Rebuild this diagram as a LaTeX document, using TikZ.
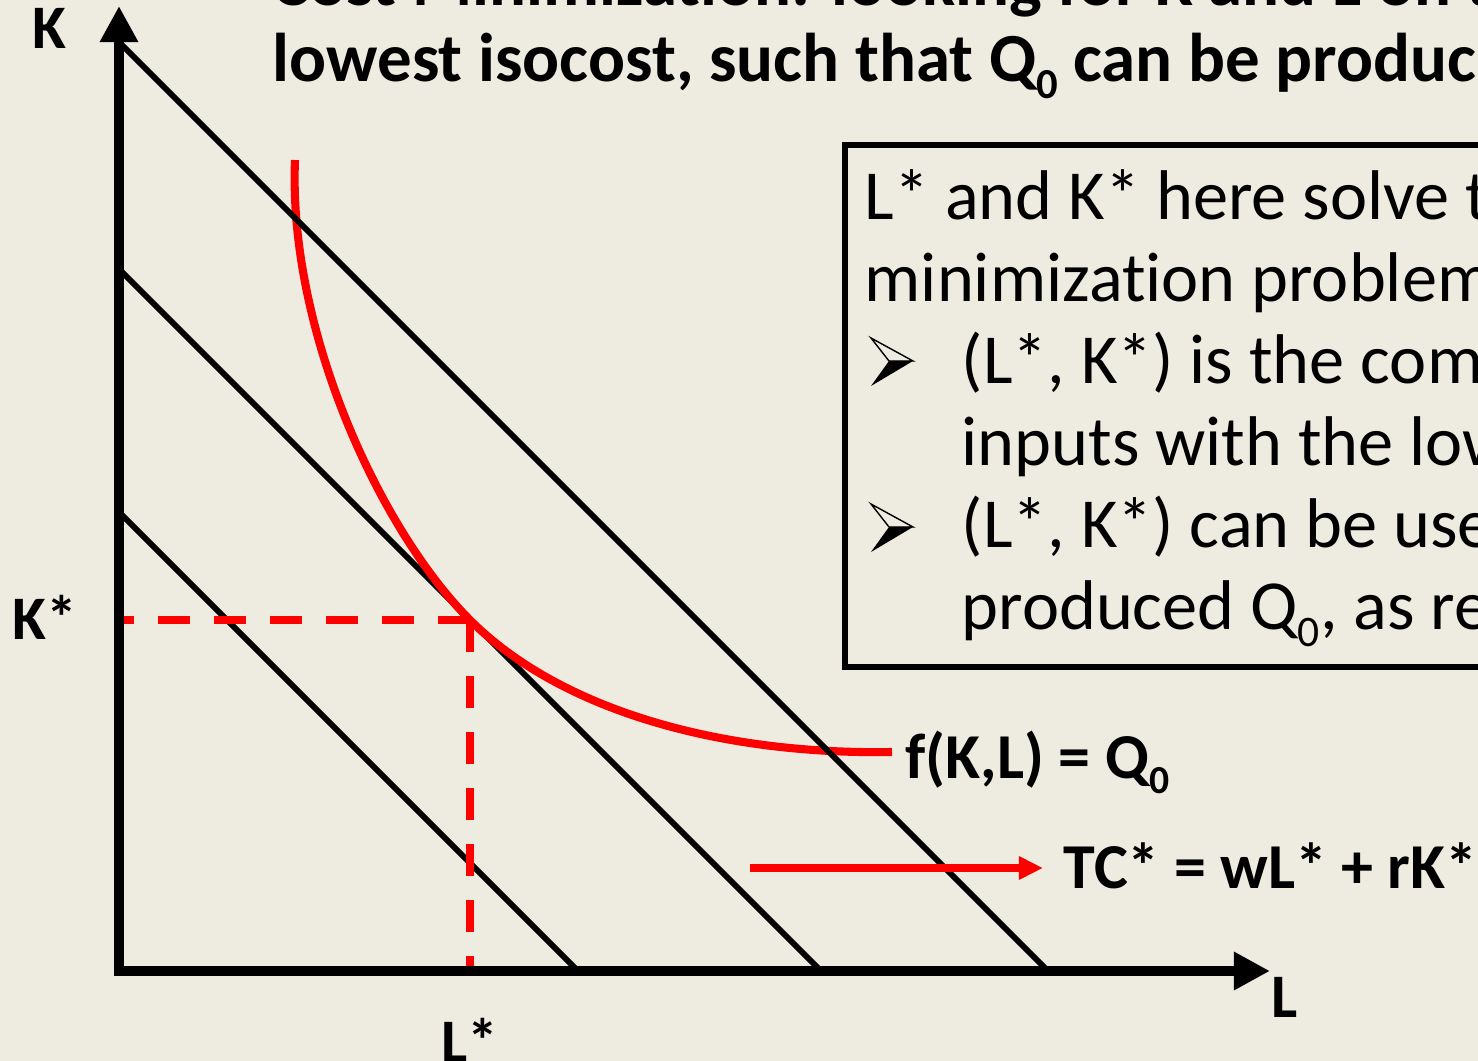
\documentclass[tikz,border=0pt]{standalone}
\usepackage{fontspec}
\setmainfont{Carlito}[Ligatures=NoCommon]
\usetikzlibrary{arrows.meta}
\definecolor{bgc}{RGB}{238,236,225}
\definecolor{myred}{RGB}{255,0,0}
\newcommand\fsz[1]{\fontsize{#1}{#1}\selectfont}
\newlength\zsl
\newcommand\subz{\setlength\zsl{0.62em}\raisebox{-0.24em}{\fontsize{\zsl}{\zsl}\selectfont 0}}
\begin{document}
\begin{tikzpicture}[x=0.01cm,y=-0.01cm,
  lbl/.style={inner sep=0pt, anchor=base west},
  titletxt/.style={lbl, font=\fsz{19.6pt}\bfseries},
  boxtxt/.style={lbl, font=\fsz{20pt}},
  axlbl/.style={lbl, font=\fsz{17.6pt}\bfseries},
  eqlbl/.style={lbl, font=\fsz{18.2pt}\bfseries},
  axisline/.style={line width=3.1pt, {Triangle[length=0.36cm,width=0.36cm]}-{Triangle[length=0.36cm,width=0.36cm]}},
  isocost/.style={line width=1.7pt, black},
  isoquant/.style={line width=2.3pt, myred},
  guide/.style={line width=2pt, myred, dash pattern=on 0.32cm off 0.24cm},
  redarrow/.style={line width=2pt, myred, -{Triangle[length=0.24cm,width=0.22cm]}},
  boxframe/.style={line width=1.7pt, black},
  pics/wbullet/.style={code={
    \draw[line width=0.4pt, fill=bgc, line join=miter] (-42,-23) -- (0,0) -- (-24,0) -- cycle;
    \fill[black] (-24,0) -- (0,0) -- (-42,25) -- cycle;
  }}]
\useasboundingbox (0,0) rectangle (1478,1061);
\clip (0,0) rectangle (1478,1061);
\fill[bgc] (0,0) rectangle (1478,1061);

% coordinates
\coordinate (O) at (119,971);
\coordinate (Ktop) at (119,6);
\coordinate (Lend) at (1270,971);
\coordinate (a1) at (120,43);  \coordinate (b1) at (1048,971);
\coordinate (a2) at (120,270); \coordinate (b2) at (821,971);
\coordinate (a3) at (120,513); \coordinate (b3) at (578,971);
\coordinate (T) at (470,620);
\coordinate (qs) at (295,160);
\coordinate (qe) at (892,752);

% title
\node[titletxt] (t1) at (272,6) {Cost Minimization: looking for K and L on the};
\node[titletxt] (t2) at (272,82) {lowest isocost, such that Q\subz{} can be produced};

% box
\draw[boxframe] (845,145) rectangle (1520,667);
\node[boxtxt] (l1) at (864,220) {L* and K* here solve the cost};
\node[boxtxt] (l2) at (864,302) {minimization problem:};
\node[boxtxt] (l3) at (961,384) {(L*, K*) is the combination of};
\node[boxtxt] (l4) at (961,466) {inputs with the lowest cost that};
\node[boxtxt] (l5) at (961,548) {(L*, K*) can be used to};
\node[boxtxt] (l6) at (961,630) {produced Q\subz, as required};
\pic at (913,361) {wbullet};
\pic at (913,527) {wbullet};

% isocosts and isoquant
\draw[isocost] (a2) -- (b2);
\draw[isocost] (a3) -- (b3);
\draw[isoquant] (qs) .. controls (288,330) and (380,530) .. (T)
                     .. controls (560,710) and (720,755) .. (qe);
\draw[isocost] (a1) -- (b1);

% guides
\draw[guide] (T) -- (T -| O);
\draw[guide] (T) -- (T |- O);

% axes
\draw[axisline] (Ktop) -- (O) -- (Lend);

% labels
\node[axlbl] (K) at (32,49) {K};
\node[axlbl] (L) at (1271,1017) {L};
\node[axlbl] (Ks) at (12,640) {K*};
\node[axlbl] (Ls) at (441,1062) {L*};
\node[eqlbl] (fq) at (905,778) {f(K,L) = Q\subz};
\node[eqlbl] (tc) at (1063,888) {TC* = wL* + rK*};
\coordinate (tcs) at (750,868);
\draw[redarrow, shorten >=0.2cm] (tcs) -- (tcs -| tc.west);
\end{tikzpicture}
\end{document}
